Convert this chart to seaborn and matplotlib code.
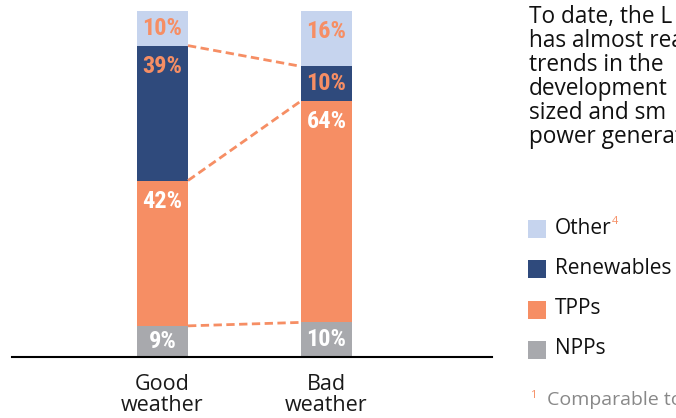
import matplotlib
matplotlib.use("Agg")
import matplotlib.pyplot as plt
from matplotlib.patches import Rectangle
from matplotlib import font_manager
import seaborn as sns
import pandas as pd
import numpy as np

# ---- data ----
categories = ["Good\nweather", "Bad\nweather"]
series = ["NPPs", "TPPs", "Renewables", "Other"]   # bottom -> top
npps = [9, 10]
tpps = [42, 64]
renewables = [39, 10]
other = [10, 16]
body_lines = ["To date, the L", "has almost rea", "trends in the",
              "development", "sized and sm", "power generat"]
footnote = "Comparable to"

values = {"NPPs": npps, "TPPs": tpps, "Renewables": renewables, "Other": other}
colors = {"NPPs": "#a8a9ad", "TPPs": "#f68e64", "Renewables": "#2f4a7c", "Other": "#c6d4ee"}
label_colors = {"NPPs": "white", "TPPs": "white", "Renewables": "#f68e64", "Other": "#f68e64"}
ORANGE = "#f68e64"

rows = []
for ci, cat in enumerate(categories):
    cum = 0
    for s in series:
        v = values[s][ci]
        rows.append({"category": cat, "series": s, "value": v,
                     "bottom": cum, "top": cum + v})
        cum += v
df = pd.DataFrame(rows)

sns.set_theme(style="white")
plt.rcParams["font.family"] = ["Open Sans", "DejaVu Sans"]

# find a condensed bold font for segment labels
avail = {f.name for f in font_manager.fontManager.ttflist}
cond_candidates = ["Liberation Sans Narrow", "DejaVu Sans Condensed", "Roboto Condensed",
                   "Open Sans Condensed", "Noto Sans Condensed", "Open Sans", "DejaVu Sans"]
lab_font = [f for f in cond_candidates if f in avail] + ["DejaVu Sans"]
lab_stretch = "condensed"

W, H = 676, 418
fig = plt.figure(figsize=(W / 100, H / 100), dpi=100)

ax_left_px, ax_right_px = 12, 492
ax_bottom_px, ax_top_px = 357, 11
ax = fig.add_axes([ax_left_px / W, (H - ax_bottom_px) / H,
                   (ax_right_px - ax_left_px) / W, (ax_bottom_px - ax_top_px) / H])

spacing_px = 164.0
center0_px = 162.5
bar_w = 51 / spacing_px

draw_order = ["Other", "Renewables", "TPPs", "NPPs"]
sns.barplot(data=df, x="category", y="top", hue="series", hue_order=draw_order,
            order=categories, palette=colors, dodge=False, width=bar_w,
            errorbar=None, legend=False, linewidth=0, ax=ax, saturation=1)

ax.set_xlim((ax_left_px - center0_px) / spacing_px, (ax_right_px - center0_px) / spacing_px)
ax.set_ylim(0, 100)
for sp in ["top", "right", "left"]:
    ax.spines[sp].set_visible(False)
ax.spines["bottom"].set_color("black")
ax.spines["bottom"].set_linewidth(1.5)
ax.set_yticks([])
ax.set_xlabel("")
ax.set_ylabel("")
ax.tick_params(axis="x", length=0, pad=12)
ax.set_xticks(range(len(categories)))
ax.set_xticklabels(categories, fontsize=15.5, color="#1a1a1a", linespacing=1.0)

# segment labels
for _, r in df.iterrows():
    ci = categories.index(r["category"])
    if r["value"] <= 10:
        y = (r["bottom"] + r["top"]) / 2
        off = 0
    else:
        y = r["top"]
        off = -21
    ax.annotate(f"{r['value']}%", xy=(ci, y), xytext=(0, off), textcoords="offset pixels",
                ha="center", va="center", fontsize=17.5, fontweight="bold",
                fontstretch=lab_stretch, color=label_colors[r["series"]], family=lab_font)

# dashed connectors
for s in ["NPPs", "TPPs", "Renewables"]:
    sub = df[df["series"] == s]
    tops = [sub[sub["category"] == c]["top"].iloc[0] for c in categories]
    ax.plot([0 + bar_w / 2, 1 - bar_w / 2], tops, color=ORANGE, lw=2,
            ls=(0, (3, 1.6)), solid_capstyle="butt", dash_capstyle="butt")

# legend (manual)
renderer = fig.canvas.get_renderer()
leg_order = ["Other", "Renewables", "TPPs", "NPPs"]
for i, s in enumerate(leg_order):
    yc = 229 + 40.3 * i
    fig.patches.append(Rectangle((528 / W, (H - yc - 9) / H), 18 / W, 18 / H,
                                 transform=fig.transFigure, color=colors[s], lw=0))
    t = fig.text(555 / W, (H - yc + 1) / H, s, fontsize=15, color="#111111",
                 ha="left", va="center")
    if s == "Other":
        bb = t.get_window_extent(renderer)
        fig.text(bb.x1 / W, (H - yc + 7) / H, "4", fontsize=8,
                 color=ORANGE, ha="left", va="center")

# body text
for i, line in enumerate(body_lines):
    yb = 23 + 24 * i
    fig.text(529 / W, (H - yb) / H, line, fontsize=16.3, color="#111111",
             ha="left", va="baseline")

# footnote
fig.text(530 / W, (H - 395) / H, "1", fontsize=8, color=ORANGE, ha="left", va="center")
fig.text(547 / W, (H - 405) / H, footnote, fontsize=14, color="#888888",
         ha="left", va="baseline")

fig.savefig("out.png", dpi=100)
